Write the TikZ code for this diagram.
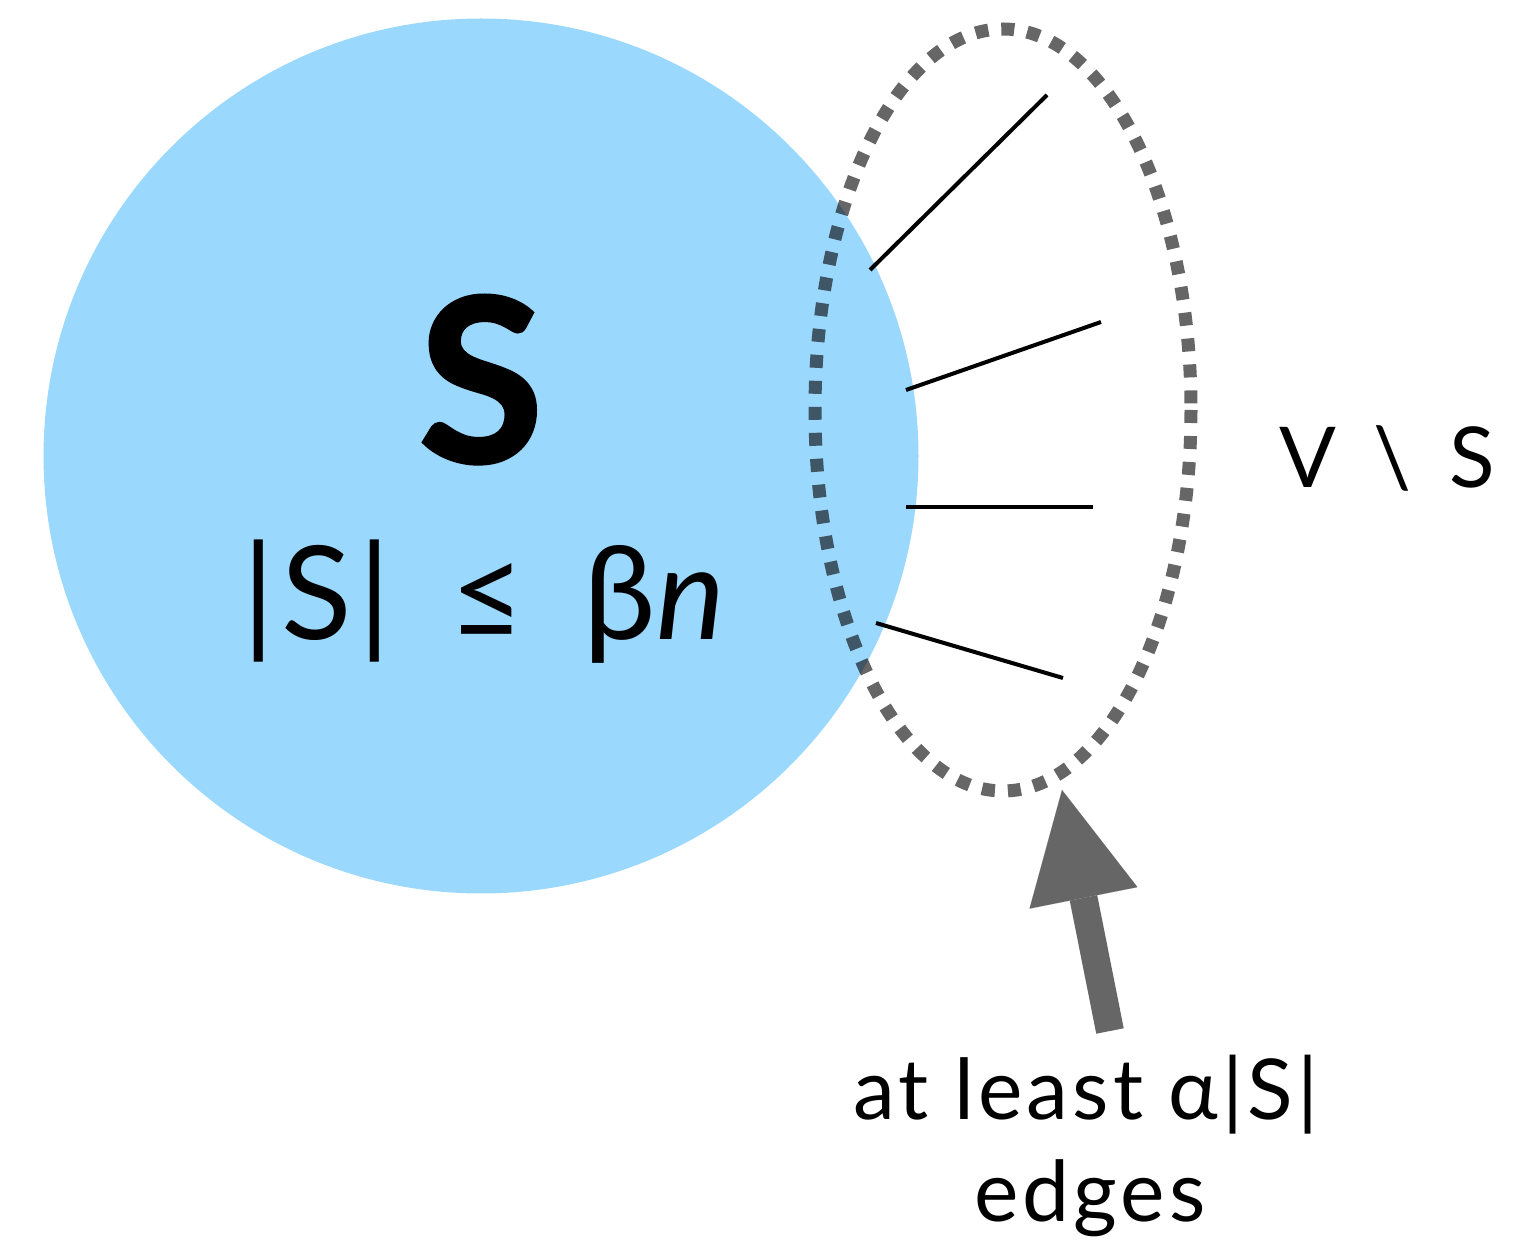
\documentclass[tikz,border=0pt]{standalone}
\usepackage{fontspec}
\setmainfont{Lato}
\usetikzlibrary{arrows.meta}
\definecolor{setblue}{RGB}{155,216,253}
\definecolor{arrowgray}{RGB}{102,102,102}
\tikzset{
  setdisk/.style={circle, fill=setblue, inner sep=0pt, minimum size=875pt*0.5},
  nbhd/.style={draw=black, draw opacity=0.6, line width=6.5pt, dash pattern=on 6.5pt off 6.5pt},
  edgeline/.style={line width=2pt, black},
  bigarrow/.style={draw=arrowgray, line width=14pt, -{Triangle[length=55pt, width=55pt, line width=0.01pt, fill=arrowgray]}},
  lbl/.style={inner sep=0pt, anchor=base, text=black}
}
\begin{document}
\begin{tikzpicture}[x=0.5pt, y=-0.5pt]
\useasboundingbox (0,0) rectangle (1523,1240);
% set S
\node[setdisk] (S) at (481,456) {};
% neighbourhood ellipse
\coordinate (E) at (1003,410);
\draw[nbhd] (E) ellipse [x radius=188, y radius=381];
% edges
\coordinate (a1) at (870,270);  \coordinate (b1) at (1047,95);
\coordinate (a2) at (906,390);  \coordinate (b2) at (1101,322);
\coordinate (a3) at (906,507);  \coordinate (b3) at (1093,507);
\coordinate (a4) at (876,623);  \coordinate (b4) at (1063,678);
\draw[edgeline] (a1) -- (b1);
\draw[edgeline] (a2) -- (b2);
\draw[edgeline] (a3) -- (b3);
\draw[edgeline] (a4) -- (b4);
% labels
\node[lbl] (Sname) at (481,462) {\fontsize{114pt}{114pt}\selectfont\bfseries\addfontfeatures{FakeBold=1.6}S};
\node[lbl] (Ssize) at (487,640) {\fontsize{65pt}{65pt}\selectfont\addfontfeatures{LetterSpace=5}|S|\hspace{0.45em}≤\hspace{0.45em}β\textit{n}};
\node[lbl] (VS) at (1387,488) {\fontsize{42pt}{42pt}\selectfont\addfontfeatures{LetterSpace=3}V\hspace{0.45em}\textbackslash\hspace{0.45em}S};
\node[lbl] (cap1) at (1086,1120) {\fontsize{42pt}{42pt}\selectfont\addfontfeatures{LetterSpace=5}at\hspace{0.3em}least\hspace{0.3em}α|S|};
\node[lbl] (cap2) at (1090,1222) {\fontsize{42pt}{42pt}\selectfont\addfontfeatures{LetterSpace=5}edges};
% arrow
\coordinate (arrstart) at (1110,1031);
\coordinate (arrtip) at (1062,790);
\draw[bigarrow] (arrstart) -- (arrtip);
\end{tikzpicture}
\end{document}
